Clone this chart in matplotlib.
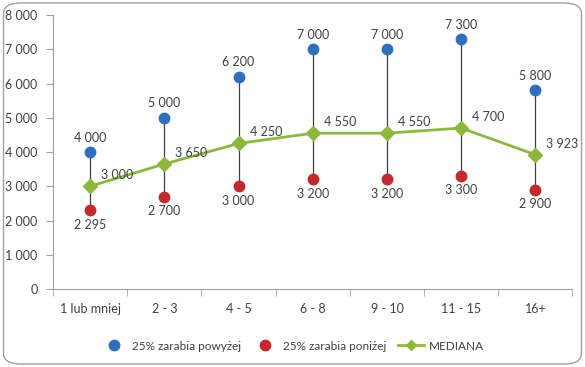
import matplotlib.pyplot as plt
from matplotlib.patches import FancyBboxPatch
from matplotlib.lines import Line2D

categories = ["1 lub mniej", "2 - 3", "4 - 5", "6 - 8", "9 - 10", "11 - 15", "16+"]
upper = [4000, 5000, 6200, 7000, 7000, 7300, 5800]
lower = [2295, 2700, 3000, 3200, 3200, 3300, 2900]
median = [3000, 3650, 4250, 4550, 4550, 4700, 3923]

blue = "#2f6fc0"
red = "#c8282b"
green = "#8cb83c"
txt = "#404040"

plt.rcParams['font.family'] = ['Lato', 'DejaVu Sans']
plt.rcParams['font.size'] = 9

def fmt(v):
    return f"{v:,}".replace(",", " ")

fig = plt.figure(figsize=(5.85, 3.67), dpi=100)
fig.patches.append(FancyBboxPatch((0.006, 0.008), 0.988, 0.984, boxstyle="round,pad=0,rounding_size=0.03",
                                  transform=fig.transFigure, fill=False, edgecolor="#a0a0a0", lw=1.0))
ax = fig.add_axes([0.0906, 0.2125, 0.888, 0.7465])

x = list(range(len(categories)))
ax.vlines(x, lower, upper, color="#404040", lw=0.9, zorder=1)
ax.plot(x, median, color=green, lw=2, marker="D", ms=7, zorder=2)
ax.plot(x, upper, "o", color=blue, ms=7.5, ls="none", zorder=3)
ax.plot(x, lower, "o", color=red, ms=7.5, ls="none", zorder=3)

for i in x:
    ax.annotate(fmt(upper[i]), (i, upper[i]), xytext=(0, 6), textcoords="offset points",
                ha="center", va="bottom", color=txt)
    ax.annotate(fmt(lower[i]), (i, lower[i]), xytext=(0, -6), textcoords="offset points",
                ha="center", va="top", color=txt)
    ax.annotate(fmt(median[i]), (i, median[i]), xytext=(8, 8), textcoords="offset points",
                ha="left", va="center", color=txt)

ax.set_xlim(-0.5, len(categories) - 0.5)
ax.set_ylim(0, 8000)
ax.set_yticks(range(0, 8001, 1000))
ax.set_yticklabels([fmt(v) for v in range(0, 8001, 1000)])
ax.set_xticks(x)
ax.set_xticklabels(categories)
ax.set_xticks([i - 0.5 for i in range(len(categories) + 1)], minor=True)
ax.tick_params(axis="x", which="major", length=0, pad=10, colors=txt)
ax.tick_params(axis="x", which="minor", length=5, color="#a0a0a0", direction="out")
ax.tick_params(axis="y", length=5, color="#a0a0a0", colors=txt, pad=6)
for s in ["top", "right"]:
    ax.spines[s].set_visible(False)
for s in ["left", "bottom"]:
    ax.spines[s].set_color("#a0a0a0")

handles = [
    Line2D([], [], marker="o", color=blue, ls="none", ms=7.5),
    Line2D([], [], marker="o", color=red, ls="none", ms=7.5),
    Line2D([], [], marker="D", color=green, lw=2, ms=5),
]
fig.legend(handles, ["25% zarabia powyżej", "25% zarabia poniżej", "MEDIANA"],
           loc="center", bbox_to_anchor=(0.5, 0.057), ncol=3, frameon=False,
           handlelength=2.2, columnspacing=1.0, handletextpad=0.4, labelcolor=txt,
           prop={"size": 8.5})

fig.savefig("out.png", dpi=100)
